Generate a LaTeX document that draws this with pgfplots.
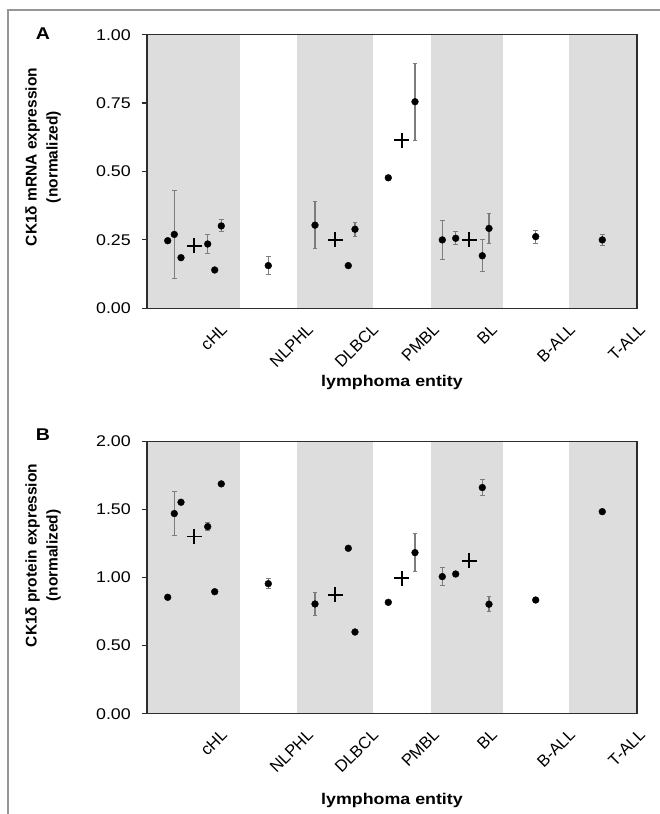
\documentclass[border=0pt]{standalone}
\usepackage{fontspec}
\setmainfont{Liberation Sans}[FakeStretch=1.15]
\newfontfamily\rotfont{Liberation Sans}
\usepackage{pgfplots}
\pgfplotsset{compat=1.18}
\definecolor{band}{RGB}{221,221,221}
\definecolor{ebar}{RGB}{125,125,125}
\definecolor{axc}{RGB}{45,45,45}
\definecolor{framec}{RGB}{150,150,150}
\newcommand\fs{\fontsize{15.5bp}{19bp}\selectfont}
\newcommand\fsl{\fontsize{15.5bp}{21bp}\selectfont}
\newcommand\fsr{\fontsize{16.5bp}{19bp}\selectfont}

\pgfplotstableread{
x y e
174.3 0.270 0.161
207.7 0.235 0.033
221.3 0.301 0.022
268.3 0.156 0.033
315 0.304 0.085
355 0.289 0.025
415 0.755 0.140
442.3 0.250 0.070
455.7 0.256 0.024
482.3 0.192 0.059
489 0.292 0.056
535.7 0.262 0.024
602.3 0.250 0.019
}\aerr
\pgfplotstableread{
x y
167.7 0.247
181 0.185
214.7 0.140
348.3 0.156
388.3 0.477
}\anoerr
\pgfplotstableread{
x y
194.3 0.228
335 0.250
401.7 0.615
469 0.250
}\amean
\pgfplotstableread{
x y e
174.3 1.470 0.163
207.7 1.374 0.030
268.3 0.955 0.035
315 0.806 0.085
355 0.600 0.020
415 1.183 0.141
442.3 1.007 0.069
455.7 1.026 0.015
482.3 1.661 0.058
489 0.804 0.057
535.7 0.835 0.020
}\berr
\pgfplotstableread{
x y
167.7 0.855
181 1.553
214.7 0.896
221.3 1.688
348.3 1.215
388.3 0.818
602.3 1.484
}\bnoerr
\pgfplotstableread{
x y
194.3 1.301
335 0.872
401.7 0.995
469 1.122
}\bmean

\pgfplotsset{
  panel/.style={
    scale only axis, width=490bp, xmin=147, xmax=637, ymin=0,
    axis on top, axis line style={axc, line width=1.3bp},
    ytick pos=left, tick align=outside, major tick length=5bp,
    tick style={axc, line width=1.2bp},
    xtick={211,297,362,423,481,559,629},
    xticklabels={cHL,NLPHL,DLBCL,PMBL,BL,B-ALL,T-ALL},
    xtick style={draw=none},
    xticklabel style={font=\rotfont\fsr, rotate=45, anchor=north east, inner sep=0pt, yshift=-13bp},
    yticklabel style={font=\fs, anchor=east, inner sep=0pt, xshift=-11bp},
    /pgf/number format/fixed, /pgf/number format/fixed zerofill,
    /pgf/number format/precision=2, /pgf/number format/assume math mode=true,
    ylabel style={font=\rotfont\bfseries\fsl, align=center, anchor=center},
    xlabel style={font=\bfseries\fs, anchor=center},
  },
  pt/.style={only marks, mark=*, mark size=3.4bp, black},
  pterr/.style={only marks, mark=*, mark size=3.4bp, black,
    error bars/.cd, y dir=both, y explicit,
    error bar style={ebar, line width=1.2bp},
    error mark options={rotate=90, ebar, mark size=2.3bp, line width=1bp}},
  mn/.style={only marks, mark=+, mark size=7.5bp, black, line width=1.8bp},
}

\begin{document}
\begin{tikzpicture}
\path[use as bounding box] (0,0) rectangle (660bp,814bp);
\draw[framec, line width=1.5bp] (8bp,0) -- (8bp,804bp) -- (660bp,804bp);
\node[font=\bfseries\fontsize{17bp}{20bp}\selectfont] at (43bp,780bp) {A};
\node[font=\bfseries\fontsize{17bp}{20bp}\selectfont] at (43bp,379bp) {B};

\begin{axis}[panel, at={(147bp,505.7bp)}, anchor=south west, height=273.6bp,
  ymax=1, ytick={0,0.25,0.5,0.75,1},
  ylabel={CK1δ mRNA expression\\(normalized)},
  ylabel style={at={(axis description cs:-0.212,0.553)}},
  xlabel={lymphoma entity},
  xlabel style={at={(axis description cs:0.5,-0.273)}}]
\addplot[fill=band, draw=none, forget plot] coordinates {(147,1) (240,1)} \closedcycle;
\addplot[fill=band, draw=none, forget plot] coordinates {(296.7,1) (372.7,1)} \closedcycle;
\addplot[fill=band, draw=none, forget plot] coordinates {(430.7,1) (502.7,1)} \closedcycle;
\addplot[fill=band, draw=none, forget plot] coordinates {(569,1) (637,1)} \closedcycle;
\addplot[pterr] table[x=x, y=y, y error=e] {\aerr};
\addplot[pt] table[x=x, y=y] {\anoerr};
\addplot[mn] table[x=x, y=y] {\amean};
\end{axis}

\begin{axis}[panel, at={(147bp,100.3bp)}, anchor=south west, height=272.3bp,
  ymax=2, ytick={0,0.5,1,1.5,2},
  ylabel={CK1δ protein expression\\(normalized)},
  ylabel style={at={(axis description cs:-0.212,0.581)}},
  xlabel={lymphoma entity},
  xlabel style={at={(axis description cs:0.5,-0.317)}}]
\addplot[fill=band, draw=none, forget plot] coordinates {(147,2) (240,2)} \closedcycle;
\addplot[fill=band, draw=none, forget plot] coordinates {(296.7,2) (372.7,2)} \closedcycle;
\addplot[fill=band, draw=none, forget plot] coordinates {(430.7,2) (502.7,2)} \closedcycle;
\addplot[fill=band, draw=none, forget plot] coordinates {(569,2) (637,2)} \closedcycle;
\addplot[pterr] table[x=x, y=y, y error=e] {\berr};
\addplot[pt] table[x=x, y=y] {\bnoerr};
\addplot[mn] table[x=x, y=y] {\bmean};
\end{axis}
\end{tikzpicture}
\end{document}
